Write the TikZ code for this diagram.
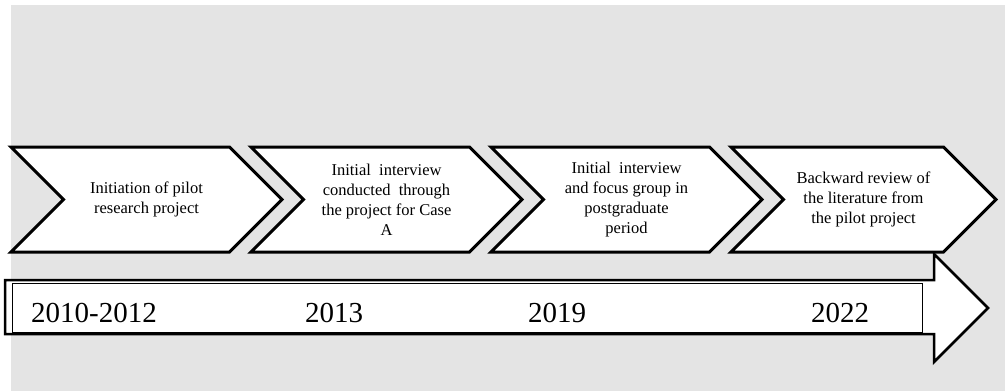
\documentclass[tikz,border=0pt]{standalone}
\usepackage{fontspec}
\setmainfont{Liberation Serif}
\usetikzlibrary{shapes.symbols}
\definecolor{bggray}{HTML}{E4E4E4}
\tikzset{
  chevron/.style={signal, signal to=east, signal from=west, signal pointer angle=90,
    draw=black, line width=3pt, fill=white, minimum height=105pt, minimum width=271pt,
    inner sep=0pt, align=center, font=\fontsize{16.5}{20}\selectfont},
  yearbar/.style={draw=black, line width=0.8pt, fill=white, minimum width=910pt,
    minimum height=49pt, inner sep=0pt},
}
\def\chevnode{\node[chevron]}
\def\yearnode{\node[anchor=base, font=\fontsize{29}{34}\selectfont]}

\begin{document}
\begin{tikzpicture}[x=1pt,y=-1pt]
\useasboundingbox (0,0) rectangle (1005,391);
\fill[bggray] (11,5) rectangle (1005,391);

% ---------- the four steps, 240pt apart
\chevnode (pilot) at (146.5,199.5) {Initiation of pilot\\research project};
\chevnode (caseA) at (386.5,199.5) {Initial~\ interview\\conducted~\ through\\the project for Case\\A};
\chevnode (focus) at (626.5,199.5) {Initial~\ interview\\and focus group in\\postgraduate\\period};
\chevnode[minimum width=265pt] (review) at (863.5,199.5) {Backward review of\\the literature from\\the pilot project};

% ---------- the time line arrow
\coordinate (tail_top) at (5,280);
\coordinate (neck_top) at (934,280);
\coordinate (head_top) at (934,254);
\coordinate (tip) at (988,308);
\coordinate (head_bot) at (934,362);
\coordinate (neck_bot) at (934,334);
\coordinate (tail_bot) at (5,334);
\draw[line width=2.5pt, fill=white] (tail_top) -- (neck_top) -- (head_top) -- (tip)
  -- (head_bot) -- (neck_bot) -- (tail_bot) -- cycle;

% the box with the years inside the shaft
\node[yearbar] (bar) at (467,307.5) {};
\yearnode (y1) at (94,322) {2010-2012};
\yearnode (y2) at (334,322) {2013};
\yearnode (y3) at (557,322) {2019};
\yearnode (y4) at (840,322) {2022};
\end{tikzpicture}
\end{document}
